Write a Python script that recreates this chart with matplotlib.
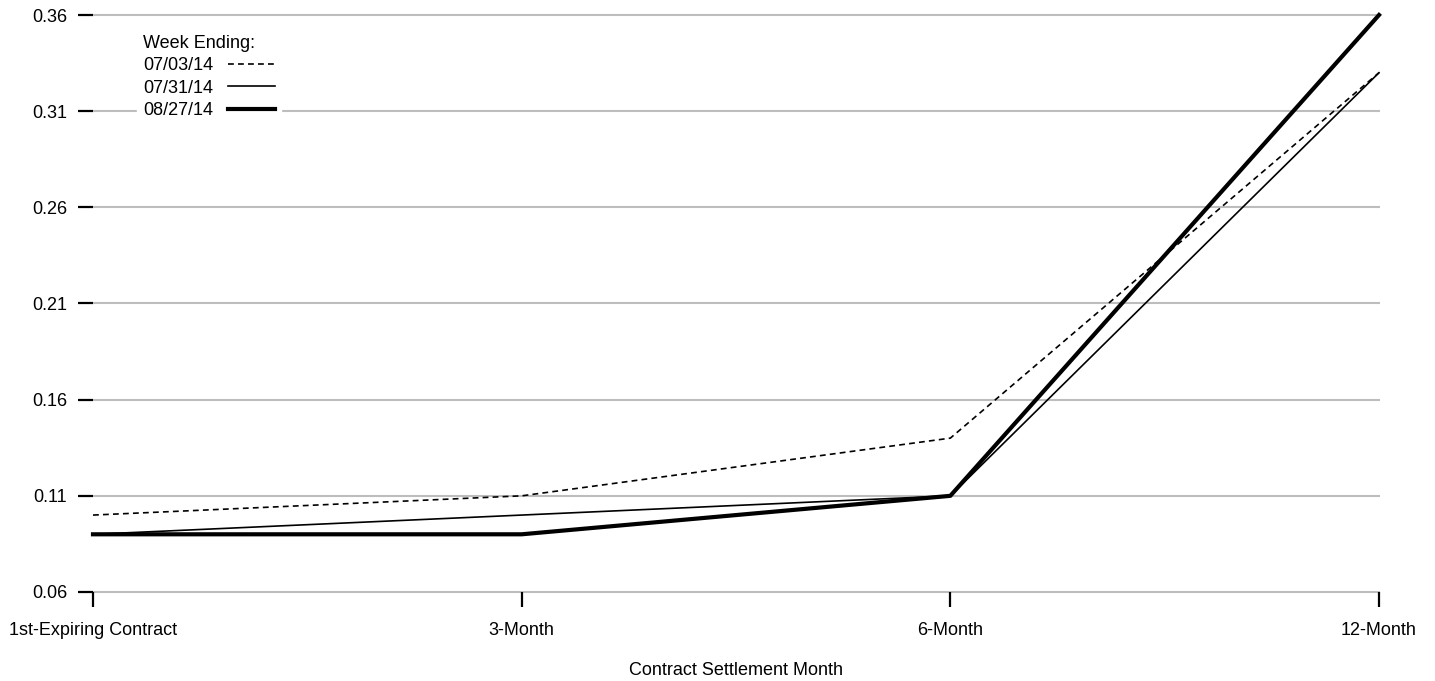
import matplotlib.pyplot as plt
import numpy as np

plt.rcParams['font.family'] = ['Liberation Sans', 'DejaVu Sans']

categories = ['1st-Expiring Contract', '3-Month', '6-Month', '12-Month']
week_0703 = [0.10, 0.11, 0.14, 0.33]
week_0731 = [0.09, 0.10, 0.11, 0.33]
week_0827 = [0.09, 0.09, 0.11, 0.36]
yticks = [0.06, 0.11, 0.16, 0.21, 0.26, 0.31, 0.36]

fig = plt.figure(figsize=(14.35, 6.81), dpi=100)
ax = fig.add_axes([93 / 1435, 1 - 592 / 681, (1379 - 93) / 1435, (592 - 15) / 681])

x = np.arange(len(categories))
ax.plot(x, week_0703, color='black', lw=1.2, ls=(0, (3.5, 2.5)), label='07/03/14')
ax.plot(x, week_0731, color='black', lw=1.2, label='07/31/14')
ax.plot(x, week_0827, color='black', lw=3.0, label='08/27/14')

ax.set_xlim(0, 3)
ax.set_ylim(0.06, 0.36)
ax.set_xticks(x)
ax.set_xticklabels(categories)
ax.set_yticks(yticks)
ax.set_yticklabels(['%.2f' % v for v in yticks])
for v in yticks:
    ax.axhline(v, color='#bdbdbd', lw=1.5, zorder=0)

for s in ax.spines.values():
    s.set_visible(False)
ax.tick_params(axis='both', direction='out', length=11, width=1.6, color='black',
               labelsize=13)
ax.tick_params(axis='y', pad=7.5)
ax.tick_params(axis='x', pad=10.5)

ax.set_xlabel('Contract Settlement Month', fontsize=13, labelpad=17)

leg = ax.legend(title='Week Ending:', loc='upper left', bbox_to_anchor=(0.027, 0.992),
                frameon=True, fancybox=False, edgecolor='white', framealpha=1,
                markerfirst=False, fontsize=13, title_fontsize=13,
                handlelength=2.6, labelspacing=0.3, borderpad=0.35,
                handletextpad=0.8)
leg._legend_box.align = 'left'
for line in ax.get_lines():
    line.set_clip_on(False)

fig.savefig('out.png', dpi=100)
